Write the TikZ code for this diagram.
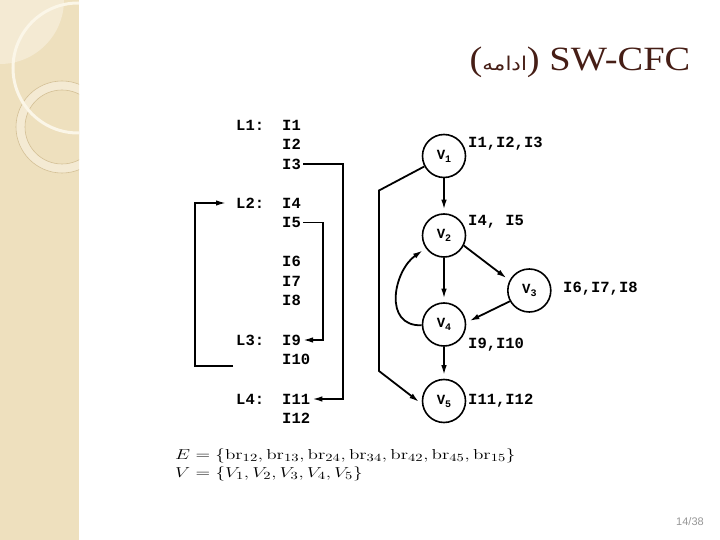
\documentclass[tikz,border=0pt]{standalone}
\usepackage[no-math]{fontspec}
\usepackage{amsmath,amssymb}
\usepackage{graphicx}
\usepackage{xcolor}
\setmainfont{Liberation Serif}
\newfontfamily\typefont{Liberation Mono}
\newfontfamily\pagefont{Liberation Sans}
\newfontfamily\arabicfont[Script=Arabic]{DejaVu Sans}
\TeXXeTstate=1
\usetikzlibrary{arrows.meta,positioning,calc}

\definecolor{stripbg}{RGB}{238,224,190}
\definecolor{striplight}{RGB}{244,234,211}
\definecolor{ringline}{RGB}{212,192,150}
\definecolor{arcwhite}{RGB}{251,246,232}
\definecolor{titlebrown}{RGB}{70,30,22}
\definecolor{pagegray}{RGB}{150,150,150}

\newcommand{\vlabel}[1]{V\raisebox{-3pt}{\fontsize{10}{10}\selectfont #1}}

\begin{document}
\begin{tikzpicture}[
    x=1pt, y=-1pt,
    code/.style={inner sep=0pt, anchor=west, text depth=0pt, font=\typefont\bfseries\fontsize{15.5}{18}\selectfont},
    block/.style={circle, draw, line width=1.6pt, minimum size=43pt, inner sep=0pt, font=\typefont\bfseries\fontsize{14}{16}\selectfont},
    arrow/.style={-{Latex[length=10pt,width=5.5pt]}, line width=1.8pt, shorten >=3.5pt},
    jump/.style={-{Latex[length=10pt,width=5.5pt]}, line width=1.7pt},
    setline/.style={anchor=west, inner sep=0pt, font=\fontsize{15}{17}\selectfont}
]
    \useasboundingbox (0,0) rectangle (720,540);

    % Band
    \fill[stripbg] (0,0) rectangle (79,540);
    \begin{scope}
        \clip (0,0) rectangle (79,540);
        \fill[striplight] (0,0) circle (64pt);
        \fill[striplight] (62,127) circle (46pt);
        \fill[stripbg] (62,127) circle (37pt);
        \draw[ringline, line width=0.6pt] (62,127) circle (46pt) (62,127) circle (37pt);
        \draw[arcwhite, line width=3pt] (78,68) circle (65pt);
    \end{scope}

    % Titel
    \node[text=titlebrown, font=\fontsize{34}{38}\selectfont] (title) at (580,62)
        {\scalebox{1.13}[1]{({\arabicfont\fontsize{19}{24}\selectfont\beginR ادامه\endR}) SW-CFC}};

    % Programm
    \node[code] (l1) at (236,125) {L1:};
    \node[code] (l2) at (236,203) {L2:};
    \node[code] (l3) at (236,340) {L3:};
    \node[code] (l4) at (236,399) {L4:};
    \foreach \n/\y in {1/125,2/144.5,3/164,4/203,5/222.5,6/261.5,7/281,8/300.5,9/340,10/359.5,11/399,12/418}
        \node[code] (i\n) at (282,\y) {I\n};
    \coordinate (back) at (233,366);

    % Spruenge
    \draw[jump] ([xshift=2pt]i3.east) -- ++(40,0) |- ([xshift=2pt]i11.east);
    \draw[jump] ([xshift=2pt]i5.east) -- ++(20,0) |- ([xshift=2pt]i9.east);
    \draw[jump] (back) -- ++(-38,0) |- ([xshift=-10pt]l2.west);

    % Graph
    \node[block] (v1) at (444,156) {\vlabel{1}};
    \node[block] (v2) at (444,235.5) {\vlabel{2}};
    \node[block] (v3) at (529.3,290.5) {\vlabel{3}};
    \node[block] (v4) at (444,324.5) {\vlabel{4}};
    \node[block] (v5) at (444,401) {\vlabel{5}};

    \node[code] (b1) at (468,142) {I1,I2,I3};
    \node[code] (b2) at (468,220) {I4, I5};
    \node[code] (b3) at (563,287) {I6,I7,I8};
    \node[code] (b4) at (468,343) {I9,I10};
    \node[code] (b5) at (468,399) {I11,I12};

    \draw[arrow] (v1) -- (v2);
    \draw[arrow] (v2) -- (v4);
    \draw[arrow] (v4) -- (v5);
    \draw[arrow] (v2.-27) -- (v3.153);
    \draw[arrow] (v3.209) -- (v4.5);
    \draw[arrow] (v4.182) to[out=182, in=215, looseness=1.3] (v2.215);
    \draw[arrow] (v1.208) -- (379,190.5) -- (379,371) -- (v5.188);

    % Mengen
    \node[setline] (eset) at (175,456)
        {\scalebox{1.33}[1]{$E=\{\mathrm{br}_{12},\mathrm{br}_{13},\mathrm{br}_{24},\mathrm{br}_{34},\mathrm{br}_{42},\mathrm{br}_{45},\mathrm{br}_{15}\}$}};
    \node[setline] (vset) at (175,474)
        {\scalebox{1.33}[1]{$V=\{V_1,V_2,V_3,V_4,V_5\}$}};

    % Seite
    \node[text=pagegray, font=\pagefont\fontsize{11}{13}\selectfont] (page) at (690,522) {14/38};
\end{tikzpicture}
\end{document}
